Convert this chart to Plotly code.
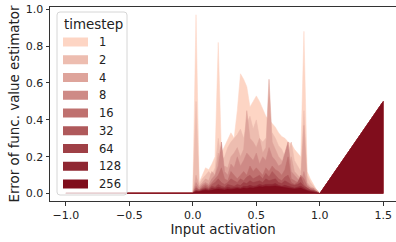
import plotly.graph_objects as go

# Input activation grid
ACTIVATION = [-1.0,
              0.0, 0.025, 0.05, 0.075, 0.1, 0.125, 0.15, 0.175, 0.2, 0.225,
              0.25, 0.275, 0.3, 0.325, 0.35, 0.375, 0.4, 0.425, 0.45, 0.475,
              0.5, 0.525, 0.55, 0.575, 0.6, 0.625, 0.65, 0.675, 0.7, 0.725,
              0.75, 0.775, 0.8, 0.825, 0.85, 0.875, 0.9, 0.925, 0.95, 0.975,
              1.0, 1.5]

TIMESTEPS = ["1", "2", "4", "8", "16", "32", "64", "128", "256"]

ERR_1 = [0.003, 0.005, 0.97, 0.06, 0.1, 0.14, 0.13, 0.16, 0.2, 0.82, 0.22, 0.26, 0.29, 0.33, 0.3, 0.45, 0.65, 0.62, 0.58, 0.47, 0.5, 0.53, 0.5, 0.46, 0.42, 0.4, 0.38, 0.36, 0.33, 0.31, 0.3, 0.28, 0.27, 0.24, 0.22, 0.2, 0.88, 0.12, 0.08, 0.05, 0.02, 0.0, 0.5]
ERR_2 = [0.003, 0.004, 0.5, 0.05, 0.08, 0.1, 0.12, 0.1, 0.14, 0.3, 0.18, 0.2, 0.25, 0.28, 0.3, 0.32, 0.35, 0.3, 0.38, 0.42, 0.35, 0.4, 0.3, 0.28, 0.3, 0.25, 0.33, 0.3, 0.26, 0.24, 0.2, 0.22, 0.28, 0.18, 0.15, 0.12, 0.45, 0.1, 0.06, 0.04, 0.02, 0.0, 0.5]
ERR_4 = [0.003, 0.003, 0.1, 0.04, 0.06, 0.08, 0.07, 0.12, 0.1, 0.22, 0.12, 0.15, 0.14, 0.2, 0.22, 0.25, 0.2, 0.24, 0.45, 0.3, 0.28, 0.25, 0.3, 0.22, 0.25, 0.62, 0.28, 0.24, 0.2, 0.18, 0.15, 0.14, 0.2, 0.12, 0.1, 0.08, 0.37, 0.06, 0.04, 0.03, 0.02, 0.0, 0.5]
ERR_8 = [0.003, 0.003, 0.06, 0.03, 0.05, 0.06, 0.05, 0.08, 0.1, 0.15, 0.28, 0.12, 0.1, 0.16, 0.14, 0.2, 0.15, 0.18, 0.22, 0.2, 0.18, 0.22, 0.16, 0.2, 0.18, 0.25, 0.2, 0.18, 0.15, 0.16, 0.22, 0.28, 0.12, 0.1, 0.08, 0.06, 0.12, 0.05, 0.03, 0.03, 0.01, 0.0, 0.5]
ERR_16 = [0.003, 0.003, 0.04, 0.02, 0.04, 0.05, 0.04, 0.06, 0.08, 0.1, 0.14, 0.08, 0.07, 0.12, 0.1, 0.08, 0.1, 0.12, 0.1, 0.15, 0.12, 0.14, 0.12, 0.1, 0.14, 0.12, 0.15, 0.13, 0.12, 0.1, 0.13, 0.2, 0.08, 0.07, 0.06, 0.1, 0.08, 0.04, 0.03, 0.02, 0.01, 0.0, 0.5]
ERR_32 = [0.003, 0.003, 0.03, 0.02, 0.03, 0.04, 0.03, 0.05, 0.06, 0.08, 0.06, 0.05, 0.06, 0.08, 0.07, 0.06, 0.08, 0.07, 0.09, 0.1, 0.08, 0.09, 0.1, 0.08, 0.11, 0.09, 0.12, 0.1, 0.08, 0.07, 0.09, 0.1, 0.06, 0.05, 0.06, 0.09, 0.05, 0.03, 0.02, 0.02, 0.01, 0.0, 0.5]
ERR_64 = [0.003, 0.003, 0.02, 0.015, 0.025, 0.03, 0.025, 0.04, 0.035, 0.05, 0.04, 0.035, 0.05, 0.045, 0.04, 0.05, 0.045, 0.06, 0.055, 0.07, 0.06, 0.065, 0.07, 0.06, 0.08, 0.07, 0.075, 0.08, 0.06, 0.055, 0.07, 0.06, 0.05, 0.045, 0.05, 0.06, 0.04, 0.03, 0.02, 0.015, 0.01, 0.0, 0.5]
ERR_128 = [0.003, 0.003, 0.015, 0.012, 0.02, 0.025, 0.02, 0.03, 0.028, 0.035, 0.03, 0.028, 0.035, 0.03, 0.032, 0.035, 0.03, 0.04, 0.038, 0.045, 0.04, 0.042, 0.05, 0.045, 0.05, 0.048, 0.05, 0.055, 0.045, 0.04, 0.045, 0.04, 0.035, 0.03, 0.035, 0.04, 0.03, 0.02, 0.015, 0.01, 0.005, 0.0, 0.5]
ERR_256 = [0.003, 0.003, 0.01, 0.01, 0.015, 0.018, 0.015, 0.02, 0.022, 0.025, 0.022, 0.02, 0.025, 0.022, 0.025, 0.028, 0.025, 0.03, 0.028, 0.032, 0.03, 0.035, 0.038, 0.036, 0.04, 0.038, 0.04, 0.042, 0.038, 0.035, 0.036, 0.032, 0.03, 0.025, 0.028, 0.03, 0.022, 0.015, 0.01, 0.008, 0.004, 0.0, 0.5]

SERIES = [ERR_1, ERR_2, ERR_4, ERR_8, ERR_16, ERR_32, ERR_64, ERR_128, ERR_256]

X_TICKS = [-1.0, -0.5, 0.0, 0.5, 1.0, 1.5]
X_TICK_TEXT = ["\u22121.0", "\u22120.5", "0.0", "0.5", "1.0", "1.5"]
Y_TICKS = [0.0, 0.2, 0.4, 0.6, 0.8, 1.0]
Y_TICK_TEXT = ["0.0", "0.2", "0.4", "0.6", "0.8", "1.0"]

COLORS = ["#fdd5c4", "#edbdb0", "#dea49b", "#ce8a86", "#bf716f", "#af595b",
          "#9f4046", "#8f2732", "#800d1c"]

W, H = 396, 242
ML, MR, MT, MB = 50, 0, 7, 41
PW, PH = W - ML - MR, H - MT - MB


def px(x):
    return (x - ML) / PW


def py(y):
    return (H - MB - y) / PH


fig = go.Figure()
for name, vals, col in zip(TIMESTEPS, SERIES, COLORS):
    fig.add_trace(go.Scatter(
        x=ACTIVATION, y=vals, name=name, mode="lines", showlegend=False,
        line=dict(color=col, width=0.5), fill="tozeroy", fillcolor=col,
    ))

font = "DejaVu Sans"
axis_common = dict(
    showgrid=False, zeroline=False, showline=True, linecolor="#333",
    linewidth=1, ticks="outside", ticklen=3.5, tickwidth=1, tickcolor="#333",
    tickfont=dict(family=font, size=11, color="#222"), automargin=False,
)

# manual legend (matplotlib style box)
shapes = []
annotations = []
bx0, by0, bx1, by1, r = 57, 12, 127, 195, 3
path = (f"M {px(bx0 + r)},{py(by0)} L {px(bx1 - r)},{py(by0)} "
        f"Q {px(bx1)},{py(by0)} {px(bx1)},{py(by0 + r)} "
        f"L {px(bx1)},{py(by1 - r)} Q {px(bx1)},{py(by1)} {px(bx1 - r)},{py(by1)} "
        f"L {px(bx0 + r)},{py(by1)} Q {px(bx0)},{py(by1)} {px(bx0)},{py(by1 - r)} "
        f"L {px(bx0)},{py(by0 + r)} Q {px(bx0)},{py(by0)} {px(bx0 + r)},{py(by0)} Z")
shapes.append(dict(type="path", path=path, xref="paper", yref="paper",
                   fillcolor="rgba(255,255,255,0.8)", line=dict(color="#d6d6d6", width=1),
                   layer="above"))
annotations.append(dict(text="timestep", x=px(62), y=py(24), xref="paper", yref="paper",
                        xanchor="left", yanchor="middle", showarrow=False,
                        font=dict(family=font, size=13.4, color="#222")))
for i, (name, col) in enumerate(zip(TIMESTEPS, COLORS)):
    cy = 42 + i * 17.75
    shapes.append(dict(type="rect", xref="paper", yref="paper",
                       x0=px(63), x1=px(88), y0=py(cy - 4.5), y1=py(cy + 4.5),
                       fillcolor=col, line=dict(width=0), layer="above"))
    annotations.append(dict(text=name, x=px(97), y=py(cy), xref="paper", yref="paper",
                            xanchor="left", yanchor="middle", showarrow=False,
                            font=dict(family=font, size=11.5, color="#222")))

fig.update_layout(
    width=W, height=H,
    margin=dict(l=ML, r=MR, t=MT, b=MB),
    paper_bgcolor="white", plot_bgcolor="white",
    font=dict(family=font, color="#222"),
    showlegend=False,
    hovermode=False,
    xaxis=dict(range=[-1.125, 1.6], tickvals=X_TICKS, ticktext=X_TICK_TEXT,
               title=dict(text="Input activation", font=dict(family=font, size=13.4), standoff=3),
               mirror=True, **axis_common),
    yaxis=dict(range=[-0.04, 1.012], tickvals=Y_TICKS, ticktext=Y_TICK_TEXT,
               title=dict(text="Error of func. value estimator", font=dict(family=font, size=13.4), standoff=3),
               **axis_common),
    shapes=shapes,
    annotations=annotations,
)

fig.write_html("out.html", config={"displayModeBar": False, "staticPlot": True},
               post_script="document.body.style.margin='0';document.body.style.overflow='hidden';")
